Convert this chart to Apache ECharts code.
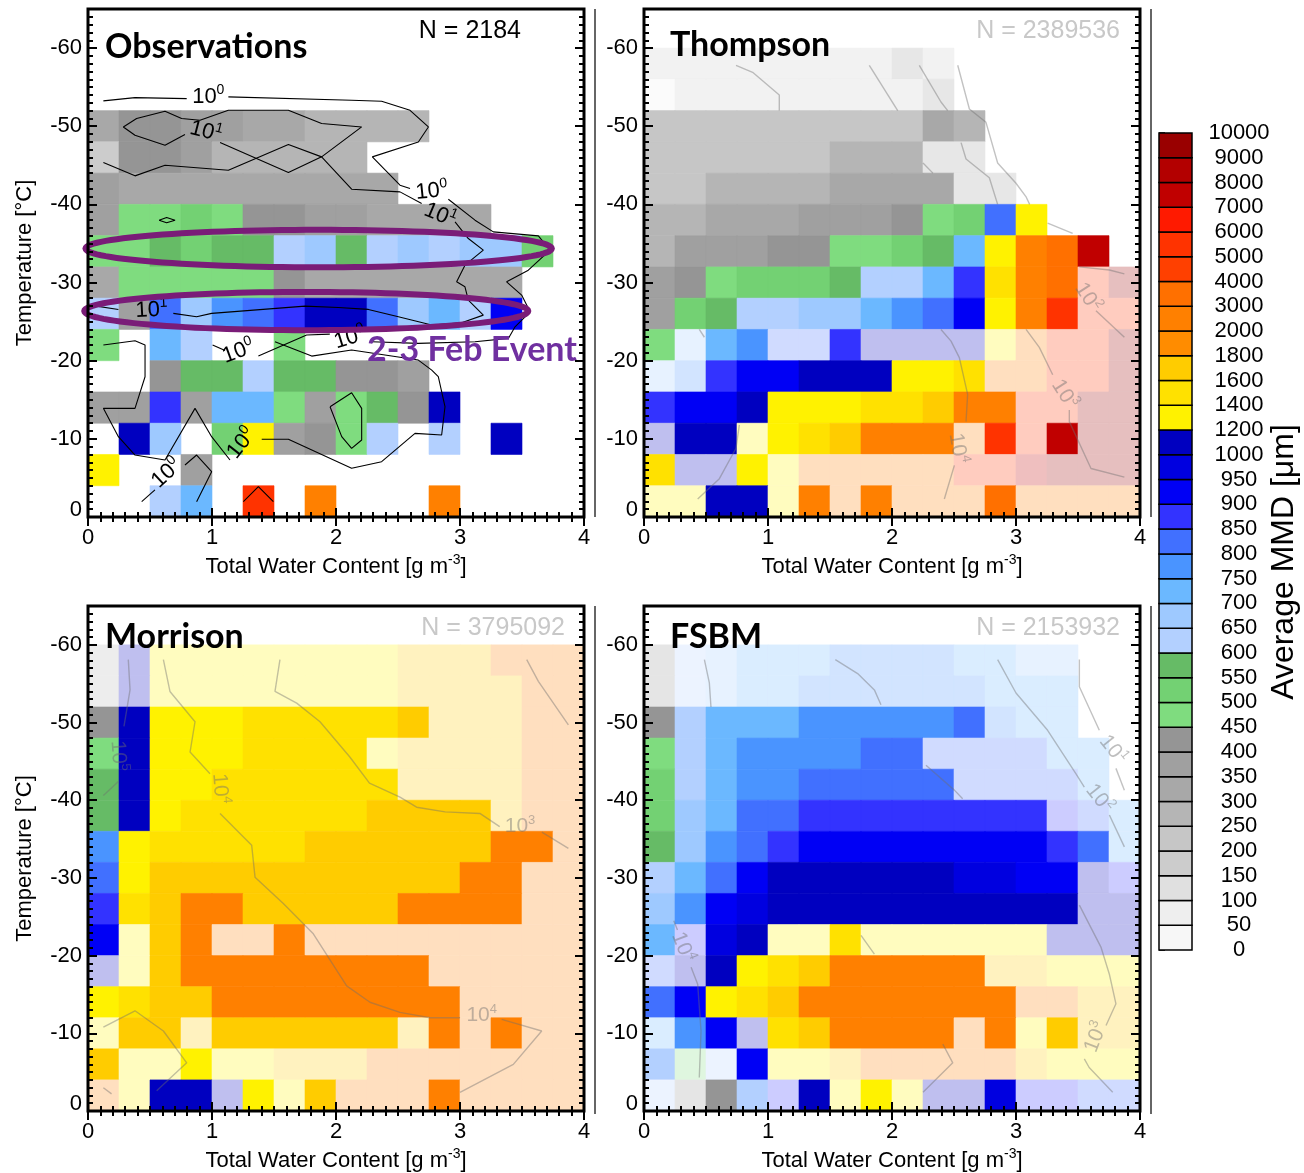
<!DOCTYPE html>
<html>
<head>
<meta charset="utf-8">
<script src="https://cdn.jsdelivr.net/npm/echarts@6/dist/echarts.min.js"></script>
<style>
  html, body { margin: 0; padding: 0; background: #fff; }
  #chart { width: 1304px; height: 1173px; }
</style>
</head>
<body>
<div id="chart"></div>
<script>
// ---------------------------------------------------------------------------
// Average mass median diameter (MMD) binned by total water content and
// temperature: observations vs. three microphysics schemes.
// ---------------------------------------------------------------------------
const N = null;

// Bin edges: total water content (g m-3) and temperature (deg C, colder edge)
const twcBins = [0, 0.25, 0.5, 0.75, 1, 1.25, 1.5, 1.75, 2, 2.25, 2.5, 2.75, 3, 3.25, 3.5, 3.75];
const tempBins = [-60, -56, -52, -48, -44, -40, -36, -32, -28, -24, -20, -16, -12, -8, -4];
const TWC_STEP = 0.25;
const TEMP_STEP = 4;

// Colour scale (um) and its colours, lowest level first
const mmdLevels = [0, 50, 100, 150, 200, 250, 300, 350, 400, 450, 500, 550, 600, 650, 700, 750,
  800, 850, 900, 950, 1000, 1200, 1400, 1600, 1800, 2000, 3000, 4000, 5000, 6000, 7000, 8000, 9000, 10000];
const mmdColors = ['#f7f7f7', '#eeeeee', '#e0e0e0', '#cccccc', '#c6c6c6', '#b5b5b5', '#a8a8a8', '#a0a0a0', '#959595',
  '#7fdc7f', '#73d173', '#66bb66',
  '#b3d0ff', '#9ec9ff', '#6bb8ff', '#4a94ff', '#4170ff', '#3333ff', '#0000f5', '#0000e0', '#0000c0',
  '#fff200', '#ffe100', '#ffcc00', '#ff8c00',
  '#ff8000', '#ff7000', '#ff4000', '#ff3300', '#ff1a00', '#c00000', '#b30000', '#990000'];

// Axis tick values
const tempTicks = [-60, -50, -40, -30, -20, -10, 0];

// Average MMD per bin (rows: -60 .. -4 deg C, columns: 0 .. 3.75 g m-3)
const obsMMD = [
  [N, N, N, N, N, N, N, N, N, N, N, N, N, N, N, N],
  [N, N, N, N, N, N, N, N, N, N, N, N, N, N, N, N],
  [325, 410, 410, 360, 360, 325, 325, 275, 275, 275, 275, N, N, N, N, N],
  [175, 410, 410, 360, 290, 275, 275, 275, 275, N, N, N, N, N, N, N],
  [375, 325, 325, 325, 325, 325, 325, 325, 325, 325, N, N, N, N, N, N],
  [360, 475, 475, 525, 475, 425, 425, 360, 360, 325, 325, 325, 325, N, N, N],
  [475, 475, 575, 525, 575, 575, 625, 675, 575, 625, 675, 625, 675, 675, 525, N],
  [325, 475, 475, 475, 475, 475, 425, 325, 325, 325, 325, 325, 325, 325, N, N],
  [625, 375, 825, 675, 775, 825, 875, 1100, 1100, 825, 675, 725, 625, 925, N, N],
  [475, N, 725, 625, N, N, 475, N, N, N, N, N, N, N, N, N],
  [N, N, 425, 575, 575, 625, 575, 575, 425, 425, 375, N, N, N, N, N],
  [360, 360, 875, 375, 725, 725, 475, 375, 475, 575, 425, 1100, N, N, N, N],
  [N, 1100, 675, N, 525, 1300, 360, 410, 475, 625, N, 625, N, 1100, N, N],
  [1300, N, N, 360, N, N, N, N, N, N, N, N, N, N, N, N],
  [N, N, 625, 725, N, 5500, N, 2500, N, N, N, 2500, N, N, N, N]
];

const thompsonMMD = [
  [175, 175, 175, 175, 175, 175, 175, 175, 375, 175, N, N, N, N, N, N],
  [75, 175, 175, 175, 175, 175, 175, 175, 175, 375, N, N, N, N, N, N],
  [225, 225, 225, 225, 225, 225, 225, 225, 225, 325, 275, N, N, N, N, N],
  [225, 225, 225, 225, 225, 225, 275, 275, 275, 375, 375, N, N, N, N, N],
  [240, 240, 275, 275, 275, 275, 325, 325, 325, 325, 375, 375, N, N, N, N],
  [275, 275, 325, 325, 325, 360, 360, 360, 425, 475, 525, 825, 1300, N, N, N],
  [275, 360, 360, 360, 410, 410, 475, 475, 525, 575, 725, 1300, 2500, 3500, 7500, N],
  [360, 410, 475, 525, 525, 525, 575, 625, 625, 725, 875, 1500, 2500, 3500, 5500, 9500],
  [360, 525, 575, 625, 625, 675, 675, 725, 775, 825, 925, 1300, 2500, 5500, 5500, 5500],
  [475, 675, 725, 775, 825, 825, 875, 1100, 1100, 1100, 1100, 1300, 2500, 5500, 5500, 9500],
  [675, 775, 875, 925, 925, 1100, 1100, 1100, 1300, 1300, 1500, 2500, 2500, 5500, 5500, 9500],
  [875, 925, 925, 1100, 1300, 1300, 1300, 1500, 1500, 1700, 2500, 2500, 5500, 5500, 9500, 9500],
  [1100, 1100, 1100, 1300, 1300, 1500, 1700, 2500, 2500, 2500, 2500, 5500, 5500, 7500, 9500, 9500],
  [1500, 1100, 1100, 1300, 1300, 2500, 2500, 2500, 2500, 2500, 5500, 5500, 7500, 9500, 9500, 9500],
  [1300, 1300, 1100, 1100, 1300, 2500, 2500, 2500, 2500, 2500, 2500, 3500, 2500, 2500, 2500, 2500]
];

const morrisonMMD = [
  [275, 1100, 1300, 1300, 1300, 1300, 1300, 1300, 1300, 1300, 1700, 1700, 1700, 2500, 2500, 2500],
  [275, 1100, 1300, 1300, 1300, 1300, 1300, 1300, 1300, 1300, 1700, 1700, 1700, 1700, 2500, 2500],
  [425, 1100, 1300, 1300, 1300, 1500, 1500, 1500, 1500, 1500, 1700, 1700, 1700, 1700, 2500, 2500],
  [475, 1100, 1300, 1300, 1300, 1500, 1500, 1500, 1500, 1300, 1700, 1700, 1700, 1700, 2500, 2500],
  [575, 1100, 1300, 1300, 1500, 1500, 1500, 1500, 1500, 1500, 1700, 1700, 1700, 1700, 2500, 2500],
  [575, 1100, 1300, 1500, 1500, 1500, 1500, 1500, 1500, 1700, 1700, 1700, 1700, 1700, 2500, 2500],
  [775, 1300, 1500, 1500, 1500, 1500, 1500, 1700, 1700, 1700, 1700, 1700, 1700, 2500, 2500, 2500],
  [825, 1300, 1700, 1700, 1700, 1700, 1700, 1700, 1700, 1700, 1700, 1700, 2500, 2500, 2500, 2500],
  [875, 1500, 1700, 2500, 2500, 1700, 1700, 1700, 1700, 1700, 2500, 2500, 2500, 2500, 2500, 2500],
  [925, 1300, 1700, 2500, 2500, 2500, 2500, 2500, 2500, 2500, 2500, 2500, 2500, 2500, 2500, 2500],
  [1100, 1300, 1700, 2500, 2500, 2500, 2500, 2500, 2500, 2500, 2500, 2500, 2500, 2500, 2500, 2500],
  [1300, 1500, 1700, 1700, 2500, 2500, 2500, 2500, 2500, 2500, 2500, 2500, 2500, 2500, 2500, 2500],
  [1300, 1700, 1700, 1700, 1700, 1700, 1700, 1700, 1700, 1700, 1700, 2500, 2500, 2500, 2500, 2500],
  [1700, 1300, 1300, 1300, 1300, 1300, 1700, 1700, 1700, 2500, 2500, 2500, 2500, 2500, 2500, 2500],
  [2500, 1300, 1100, 1100, 1100, 1300, 1300, 1700, 2500, 2500, 2500, 2500, 2500, 2500, 2500, 2500]
];

const fsbmMMD = [
  [425, 625, 675, 725, 725, 725, 775, 775, 775, 775, 725, 725, 675, 675, N, N],
  [425, 625, 675, 725, 725, 775, 775, 775, 775, 775, 775, 725, 725, 725, N, N],
  [425, 625, 725, 725, 725, 775, 775, 775, 775, 775, 825, 775, 725, 725, N, N],
  [475, 625, 725, 775, 775, 775, 775, 825, 825, 825, 825, 825, 825, 725, 725, N],
  [525, 625, 725, 775, 775, 825, 825, 825, 825, 825, 825, 825, 825, 825, 725, N],
  [525, 675, 725, 825, 825, 875, 875, 875, 875, 875, 875, 875, 875, 875, 825, 725],
  [575, 675, 775, 825, 875, 925, 925, 925, 925, 925, 925, 925, 925, 875, 825, 725],
  [625, 725, 825, 925, 1100, 1100, 1100, 1100, 1100, 1100, 975, 975, 925, 925, 1100, 875],
  [675, 775, 925, 975, 1100, 1100, 1100, 1100, 1100, 1100, 1100, 1100, 1100, 1100, 1100, 1100],
  [725, 875, 975, 1100, 1300, 1300, 1500, 1300, 1300, 1300, 1300, 1300, 1300, 1100, 1100, 1100],
  [825, 1100, 1100, 1300, 1500, 1700, 2500, 2500, 2500, 2500, 2500, 1700, 1700, 1300, 1300, 1300],
  [825, 925, 1300, 1500, 1700, 2500, 2500, 2500, 2500, 2500, 2500, 2500, 2500, 2500, 1700, 1700],
  [725, 775, 925, 1100, 1500, 1700, 2500, 2500, 2500, 2500, 2500, 2500, 1300, 1700, 1700, 1700],
  [625, 475, 625, 925, 1300, 1300, 1700, 2500, 2500, 2500, 2500, 2500, 1700, 1300, 1300, 1300],
  [625, 425, 425, 625, 875, 1100, 1300, 1300, 1300, 1100, 1100, 975, 875, 875, 825, 825]
];

// Sample-count contours: polylines in (TWC, temperature), split where a label sits
const obsContours = [
  [[0.124, -53.24], [0.379, -53.66], [0.796, -53.53]],
  [[1.132, -53.75], [2.126, -53.32], [2.368, -53.19], [2.597, -52.04], [2.745, -49.91], [2.664, -47.99], [2.293, -46.08], [2.516, -42.45], [2.597, -42.03]],
  [[2.906, -40.66], [3.121, -37.98], [3.269, -36.48], [3.632, -35.97], [3.726, -34.14], [3.551, -31.58], [3.376, -30.09], [3.497, -28.39], [3.565, -26.26], [3.444, -24.34], [3.390, -22.85], [3.121, -22.42], [2.664, -22.21], [2.288, -22.42]],
  [[1.95, -23.4], [1.763, -23.28], [1.374, -20.59]],
  [[1.105, -21.3], [1.005, -22.0]],
  [[1.508, -22.42], [1.804, -20.59], [2.126, -21.36], [2.664, -20.08], [2.772, -18.8], [2.825, -17.95], [2.879, -14.11], [2.852, -10.49], [2.637, -10.70], [2.368, -7.08], [2.126, -6.23], [1.616, -9.94], [1.401, -9.94]],
  [[1.145, -7.29], [0.997, -10.28], [0.863, -13.90], [0.621, -7.29], [0.379, -7.93], [0.245, -10.28], [0.124, -13.90], [0.379, -13.90], [0.460, -17.95], [0.460, -22.0], [0.379, -22.55], [0.124, -22.0]],
  [[0.782, -6.65], [0.876, -7.93], [0.997, -5.80], [0.876, -1.96]],
  [[0.433, -1.96], [0.540, -3.46]],
  [[1.253, -1.96], [1.374, -3.88], [1.495, -1.96]],
  [[1.952, -14.11], [2.126, -15.90], [2.207, -13.90], [2.207, -9.85], [2.126, -8.78], [2.046, -10.28], [1.952, -14.11]],
  [[0.573, -37.98], [0.634, -38.32], [0.702, -37.98], [0.634, -37.64], [0.573, -37.98]],
  [[0.782, -48.93], [0.621, -47.57], [0.379, -48.85], [0.285, -49.91], [0.392, -50.98], [0.621, -51.92], [0.755, -50.98], [0.903, -50.76], [1.132, -52.04], [1.616, -52.04], [1.884, -50.34], [2.207, -49.91], [1.884, -46.08], [1.616, -44.07], [1.065, -47.91]],
  [[0.124, -45.35], [0.379, -43.65], [0.621, -45.01], [1.132, -44.37], [1.616, -47.65], [1.884, -46.08], [2.126, -41.94], [2.516, -41.60], [2.691, -40.11]],
  [[2.960, -37.76], [3.067, -35.63], [3.188, -34.14], [3.040, -32.22], [2.973, -30.09], [3.040, -29.46], [3.067, -27.75], [3.188, -25.83], [3.013, -24.85], [2.772, -24.56], [2.503, -25.62], [2.261, -26.56], [2.019, -26.81], [1.750, -26.98], [0.997, -26.05], [0.876, -25.62], [0.688, -26.05]],
  [[0.245, -26.56], [0.016, -27.11]]
];
// Contour labels: [TWC, temperature, power of ten, rotation]
const obsContourLabels = [
  [0.970, -53.75, 0, 0], [0.950, -49.3, 1, -0.25], [2.771, -41.68, 0, 0.1], [2.839, -38.62, 1, -0.4],
  [0.513, -26.47, 1, 0.05], [2.113, -22.9, 0, 0.3], [1.212, -21.15, 0, 0.35], [1.239, -9.42, 0, 0.9],
  [0.634, -5.59, 0, 0.75]
];

const thompsonContours = [
  [[0.742, -57.8], [0.876, -56.9], [1.091, -54.0], [1.091, -52.0]],
  [[1.817, -57.8], [2.046, -52.0]],
  [[2.22, -57.8], [2.395, -53.1], [2.449, -52.0]],
  [[2.53, -57.8], [2.624, -52.2], [2.758, -50.5], [2.852, -45.3], [3.0, -42.7], [3.08, -41.0], [3.11, -40.0]],
  [[2.557, -47.9], [2.597, -45.8], [2.785, -43.4], [2.852, -40.0]],
  [[2.25, -45.3], [2.33, -44.0]],
  [[3.255, -37.6], [3.457, -36.3]],
  [[3.511, -32.0], [3.753, -31.6], [3.874, -31.1]],
  [[3.645, -26.4], [3.874, -23.0]],
  [[2.395, -24.0], [2.476, -22.5], [2.543, -20.4], [2.61, -15.7], [2.597, -12.2]],
  [[2.503, -6.6], [2.422, -2.3]],
  [[3.081, -24.0], [3.188, -21.7], [3.296, -18.2]],
  [[3.43, -13.7], [3.43, -12.2], [3.605, -6.2], [3.874, -5.1]],
  [[0.433, -2.3], [0.608, -4.9], [0.742, -8.8], [0.769, -11.8]],
  [[0.446, -24.0], [0.487, -23.0]]
];
const thompsonContourLabels = [[3.578, -28.1, 2, -1.0], [3.39, -15.7, 3, -1.0], [2.53, -8.8, 4, -1.4]];

const morrisonContours = [
  [[0.325, -58.1], [0.339, -54.2], [0.312, -51.6], [0.29, -49.5]],
  [[0.245, -42.4], [0.124, -40.6]],
  [[0.608, -58.1], [0.661, -54.0], [0.863, -50.1], [0.823, -46.2], [0.984, -43.4]],
  [[1.065, -38.3], [1.32, -34.2], [1.347, -30.1], [1.575, -26.7], [1.817, -22.8], [2.086, -16.1], [2.274, -14.0], [2.516, -12.7], [2.758, -12.0], [3.0, -12.0]],
  [[3.336, -11.8], [3.659, -10.3], [3.43, -6.0], [3.0, -2.4]],
  [[1.548, -58.1], [1.508, -54.0], [1.683, -52.5], [1.871, -50.1], [2.11, -45.6], [2.27, -42.2], [2.516, -40.4], [2.65, -39.1], [2.88, -38.5], [3.16, -38.3], [3.32, -36.6]],
  [[3.66, -35.9], [3.874, -33.8]],
  [[3.538, -58.1], [3.632, -55.3], [3.874, -49.7]],
  [[0.124, -10.8], [0.379, -12.9], [0.608, -10.3], [0.796, -6.2], [0.554, -2.6]],
  [[0.124, -3.0], [0.19, -2.2]]
];
const morrisonContourLabels = [[0.245, -45.7, 5, -1.5], [1.065, -41.5, 4, -1.5], [3.484, -36.6, 3, 0], [3.175, -12.3, 4, 0]];

const fsbmContours = [
  [[0.487, -58.1], [0.527, -55.1], [0.54, -52.0]],
  [[1.543, -58.1], [1.723, -56.3], [1.858, -54.2], [1.911, -52.3]],
  [[2.274, -44.5], [2.503, -41.3], [2.57, -40.2]],
  [[2.852, -58.1], [3.0, -53.8], [3.255, -49.0], [3.484, -43.4], [3.551, -41.7]],
  [[3.753, -38.1], [3.874, -34.0]],
  [[3.511, -58.1], [3.511, -54.6], [3.672, -49.0]],
  [[3.806, -44.1], [3.874, -41.3]],
  [[3.511, -26.5], [3.685, -21.1], [3.753, -17.6], [3.806, -13.8], [3.726, -11.0]],
  [[3.551, -6.7], [3.59, -5.6], [3.78, -2.4]],
  [[1.75, -22.6], [1.858, -20.2]],
  [[0.24, -24.5], [0.27, -23.3]],
  [[0.38, -18.5], [0.433, -16.3], [0.46, -10.3], [0.446, -4.3]],
  [[2.41, -8.6], [2.49, -6.2], [2.25, -2.4]]
];
const fsbmContourLabels = [[3.672, -40.2, 2, -0.9], [3.78, -46.5, 1, -0.9], [3.645, -9.5, 3, 1.2], [0.312, -21.1, 4, -1.2]];

// Highlighted 2-3 Feb layers: [centre TWC, centre temperature, half-width TWC, half-height deg C]
const eventEllipses = [[1.86, -34.35, 1.88, 2.4], [1.76, -26.35, 1.79, 2.45]];
const eventLabel = [[2.25, -21.4]];

// ---------------------------------------------------------------------------
const FONT = "'Liberation Sans', Arial, Helvetica, sans-serif";
const TITLE_FONT = "Lato, 'Open Sans', sans-serif";

function hexToRgb(h) {
  return [parseInt(h.slice(1, 3), 16), parseInt(h.slice(3, 5), 16), parseInt(h.slice(5, 7), 16)];
}
function colorOf(v, faded) {
  let i = 0;
  while (i < mmdColors.length - 1 && v >= mmdLevels[i + 1]) i++;
  const base = mmdColors[i];
  if (!faded) return base;
  const c = hexToRgb(base).map(x => Math.round(x * 0.25 + 255 * 0.75));
  return 'rgb(' + c.join(',') + ')';
}

const panels = [
  { title: 'Observations', count: 'N = 2184', countColor: '#000', countX: 521, rows: obsMMD, fade: false,
    contours: obsContours, labels: obsContourLabels, lineColor: '#000', lineWidth: 1.1, labelColor: '#000', labelSize: 22,
    left: 88, top: 9, titleX: 105, titleY: 47 },
  { title: 'Thompson', count: 'N = 2389536', countColor: '#c8c8c8', countX: 1120, rows: thompsonMMD, fade: true,
    contours: thompsonContours, labels: thompsonContourLabels, lineColor: 'rgba(110,110,110,0.42)', lineWidth: 1.4, labelColor: 'rgba(110,110,110,0.45)', labelSize: 21,
    left: 644, top: 9, titleX: 670, titleY: 45 },
  { title: 'Morrison', count: 'N = 3795092', countColor: '#c8c8c8', countX: 565, rows: morrisonMMD, fade: true,
    contours: morrisonContours, labels: morrisonContourLabels, lineColor: 'rgba(110,110,110,0.42)', lineWidth: 1.4, labelColor: 'rgba(110,110,110,0.45)', labelSize: 21,
    left: 88, top: 606, titleX: 105, titleY: 637 },
  { title: 'FSBM', count: 'N = 2153932', countColor: '#c8c8c8', countX: 1120, rows: fsbmMMD, fade: true,
    contours: fsbmContours, labels: fsbmContourLabels, lineColor: 'rgba(110,110,110,0.42)', lineWidth: 1.4, labelColor: 'rgba(110,110,110,0.45)', labelSize: 21,
    left: 644, top: 606, titleX: 670, titleY: 637 }
];
const PLOT_W = 496, PLOT_H = 508;

const minorTemps = [];
for (let t = -65; t <= 0; t++) minorTemps.push(t);

const grids = [], xAxes = [], yAxes = [], series = [], graphics = [];
const tickStyle = { color: '#000', width: 2 };

function renderCell(params, api) {
  const x0 = api.value(0), t0 = api.value(1);
  const a = api.coord([x0, t0]);
  const b = api.coord([x0 + TWC_STEP, t0 + TEMP_STEP]);
  const col = colorOf(api.value(2), api.value(3) === 1);
  return {
    type: 'rect',
    shape: { x: Math.min(a[0], b[0]), y: Math.min(a[1], b[1]), width: Math.abs(b[0] - a[0]), height: Math.abs(b[1] - a[1]) },
    style: { fill: col, stroke: col, lineWidth: 0.6 }
  };
}
function labelRenderer(color, size) {
  return function (params, api) {
    const p = api.coord([api.value(0), api.value(1)]);
    return {
      type: 'text', x: p[0], y: p[1], rotation: api.value(3),
      style: {
        text: '10{s|' + api.value(2) + '}', fill: color, fontSize: size, fontFamily: FONT,
        align: 'center', verticalAlign: 'middle',
        rich: { s: { fontSize: Math.round(size * 0.62), fill: color, fontFamily: FONT, padding: [0, 0, Math.round(size * 0.6), 0] } }
      }
    };
  };
}

panels.forEach((p, g) => {
  grids.push({ left: p.left, top: p.top, width: PLOT_W, height: PLOT_H, show: true, borderColor: '#000', borderWidth: 3,
    backgroundColor: 'transparent', z: 10 });

  const xBase = {
    type: 'value', gridIndex: g, min: 0, max: 4, interval: 1, z: 10,
    axisLine: { show: false }, splitLine: { show: false }, minorSplitLine: { show: false },
    axisTick: { show: true, inside: true, length: 9, lineStyle: tickStyle },
    minorTick: { show: true, splitNumber: 10, length: 5, lineStyle: tickStyle }
  };
  xAxes.push(Object.assign({}, xBase, {
    position: 'bottom',
    axisLabel: { color: '#000', fontSize: 22, fontFamily: FONT, margin: 10 },
    name: 'Total Water Content [g m{sup|-3}]', nameLocation: 'middle', nameGap: 36,
    nameTextStyle: { color: '#000', fontSize: 22, fontFamily: FONT,
      rich: { sup: { color: '#000', fontSize: 14, fontFamily: FONT, padding: [0, 0, 14, 0] } } }
  }));
  xAxes.push(Object.assign({}, xBase, { position: 'top', axisLabel: { show: false } }));

  const yBase = {
    type: 'value', gridIndex: g, inverse: true, min: -65, max: 0, z: 10,
    axisLine: { show: false }, splitLine: { show: false }
  };
  const yMajor = { show: true, inside: true, length: 9, customValues: tempTicks, lineStyle: tickStyle };
  const yMinor = { show: true, inside: true, length: 5, customValues: minorTemps, lineStyle: tickStyle };
  yAxes.push(Object.assign({}, yBase, {
    position: 'left', axisTick: yMajor,
    axisLabel: {
      customValues: tempTicks, color: '#000', fontSize: 22, fontFamily: FONT, margin: 6,
      formatter: v => (v === 0 ? '{z|0}' : String(v)),
      rich: { z: { fontSize: 22, fontFamily: FONT, color: '#000', padding: [0, 0, 14, 0] } }
    },
    name: (g % 2 === 0) ? 'Temperature [°C]' : '', nameLocation: 'middle', nameGap: 52, nameRotate: 90,
    nameTextStyle: { color: '#000', fontSize: 22, fontFamily: FONT }
  }));
  yAxes.push(Object.assign({}, yBase, { position: 'left', axisTick: yMinor, axisLabel: { show: false } }));
  yAxes.push(Object.assign({}, yBase, { position: 'right', axisTick: yMajor, axisLabel: { show: false } }));
  yAxes.push(Object.assign({}, yBase, { position: 'right', axisTick: yMinor, axisLabel: { show: false } }));

  // MMD cells; model bins without observations are drawn washed out
  const cells = [];
  p.rows.forEach((row, r) => row.forEach((v, c) => {
    if (v == null) return;
    const faded = p.fade && obsMMD[r][c] == null ? 1 : 0;
    cells.push([twcBins[c], tempBins[r], v, faded]);
  }));
  series.push({ type: 'custom', xAxisIndex: 2 * g, yAxisIndex: 4 * g, data: cells, encode: { x: 0, y: 1 },
    renderItem: renderCell, clip: true, silent: true, z: 2 });

  p.contours.forEach(seg => series.push({
    type: 'line', xAxisIndex: 2 * g, yAxisIndex: 4 * g, data: seg, symbol: 'none', showSymbol: false,
    lineStyle: { color: p.lineColor, width: p.lineWidth }, silent: true, z: 3, clip: true
  }));
  series.push({ type: 'custom', xAxisIndex: 2 * g, yAxisIndex: 4 * g, data: p.labels, encode: { x: 0, y: 1 },
    renderItem: labelRenderer(p.labelColor, p.labelSize), clip: false, silent: true, z: 4 });

  graphics.push({ type: 'text', x: p.titleX, y: p.titleY, z: 20,
    style: { text: p.title, fill: '#000', fontSize: 34, fontWeight: 'bold', fontFamily: TITLE_FONT, align: 'left', verticalAlign: 'middle' } });
  graphics.push({ type: 'text', x: p.countX, y: p.top + 22, z: 20,
    style: { text: p.count, fill: p.countColor, fontSize: 25, fontFamily: FONT, align: 'right', verticalAlign: 'middle' } });
});

// 2-3 Feb event highlight on the observations panel
series.push({
  type: 'custom', xAxisIndex: 0, yAxisIndex: 0, data: eventEllipses, clip: false, silent: true, z: 6,
  renderItem: function (params, api) {
    const cx = api.value(0), ct = api.value(1), rx = api.value(2), rt = api.value(3);
    const pts = [];
    for (let k = 0; k < 120; k++) {
      const a = (k / 120) * Math.PI * 2;
      pts.push(api.coord([cx + rx * Math.cos(a), ct + rt * Math.sin(a)]));
    }
    return { type: 'polygon', shape: { points: pts }, style: { fill: 'none', stroke: '#7a1c78', lineWidth: 6 } };
  }
});
series.push({
  type: 'custom', xAxisIndex: 0, yAxisIndex: 0, data: eventLabel, clip: false, silent: true, z: 7,
  renderItem: function (params, api) {
    const p = api.coord([api.value(0), api.value(1)]);
    return { type: 'text', x: p[0], y: p[1],
      style: { text: '2-3 Feb Event', fill: '#7030a0', fontSize: 34, fontWeight: 'bold', fontFamily: TITLE_FONT, align: 'left', verticalAlign: 'middle' } };
  }
});

// Colour bar
grids.push({ left: 1159, top: 133, width: 33, height: 817, show: false });
xAxes.push({ type: 'value', gridIndex: 4, min: 0, max: 1, show: false });
yAxes.push({
  type: 'value', gridIndex: 4, min: 0, max: mmdColors.length, interval: 1, position: 'right',
  axisLine: { show: false }, splitLine: { show: false },
  axisTick: { show: true, length: 6, lineStyle: { color: '#000', width: 1.5 } },
  axisLabel: { formatter: v => String(mmdLevels[v]), color: '#000', fontSize: 22, fontFamily: FONT, align: 'center', margin: 47 }
});
series.push({
  type: 'custom', xAxisIndex: 8, yAxisIndex: 16, data: mmdColors.map((c, i) => [i]), silent: true, z: 2,
  renderItem: function (params, api) {
    const i = api.value(0);
    const a = api.coord([0, i]), b = api.coord([1, i + 1]);
    return { type: 'rect', shape: { x: a[0], y: b[1], width: b[0] - a[0], height: a[1] - b[1] },
      style: { fill: mmdColors[i], stroke: '#000', lineWidth: 1.5 } };
  }
});
graphics.push({ type: 'text', x: 1284, y: 562, rotation: Math.PI / 2, z: 20,
  style: { text: 'Average MMD [μm]', fill: '#000', fontSize: 32, fontFamily: FONT, align: 'center', verticalAlign: 'middle' } });

// Edges of neighbouring colour bars
[[595, 9, 517], [595, 606, 1114], [1151, 9, 517], [1151, 606, 1114]].forEach(l => graphics.push({
  type: 'line', shape: { x1: l[0], y1: l[1], x2: l[0], y2: l[2] }, style: { stroke: '#333', lineWidth: 1.5 }, z: 1
}));

const chart = echarts.init(document.getElementById('chart'), null, { renderer: 'canvas' });
chart.setOption({
  backgroundColor: '#fff',
  animation: false,
  grid: grids,
  xAxis: xAxes,
  yAxis: yAxes,
  series: series,
  graphic: graphics
});
</script>
</body>
</html>
